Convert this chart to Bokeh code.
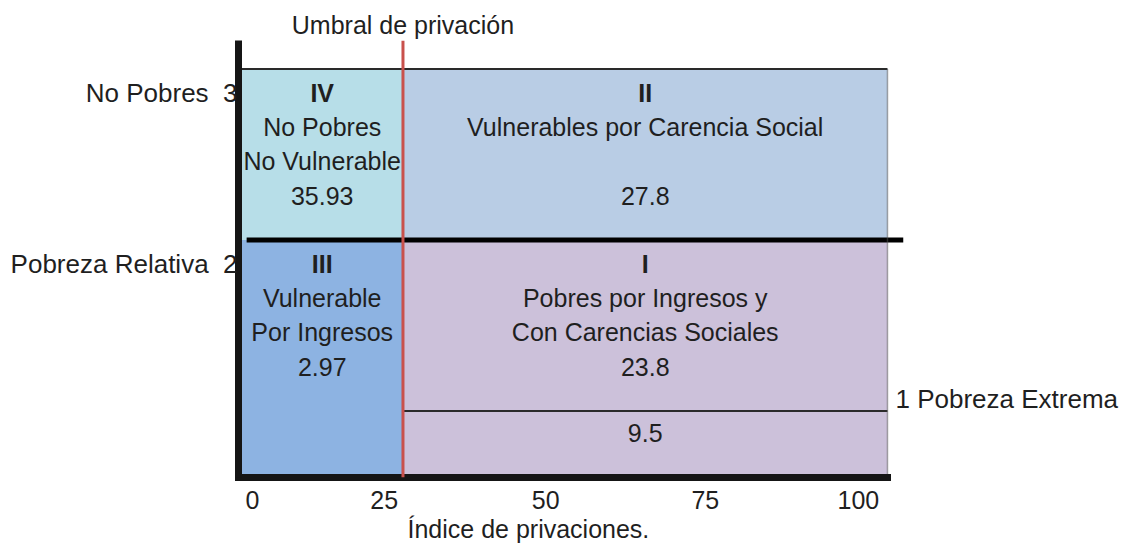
from bokeh.plotting import figure
from bokeh.models import Range1d, FixedTicker, LinearAxis, Span, Title, ColumnDataSource
from bokeh.embed import file_html
from bokeh.resources import INLINE
from bokeh.core.properties import value

# ---------------- data ----------------
x_ticks = [0, 25, 50, 75, 100]
threshold = 25            # Umbral de privación
x_max = 100
levels = [3, 2, 1]        # No Pobres, Pobreza Relativa, Pobreza Extrema
left_labels = ["No Pobres \u00a03", "Pobreza Relativa \u00a02"]
right_label = "1 Pobreza Extrema"
top_label = "Umbral de privación"
x_title = "Índice de privaciones."

quadrant_ids = ["IV", "II", "III", "I"]
quadrant_lines = [
    ["No Pobres", "No Vulnerable"],
    ["Vulnerables por Carencia Social", ""],
    ["Vulnerable", "Por Ingresos"],
    ["Pobres por Ingresos y", "Con Carencias Sociales"],
]
quadrant_values = [35.93, 27.8, 2.97, 23.8]
extreme_value = 9.5
quadrant_colors = ["#b7dee8", "#b9cde5", "#8db3e2", "#ccc1da"]

# ---------------- style ----------------
FONT_NAME = "Liberation Sans"
FONT = value(FONT_NAME)
FS = "25px"
FS_SIDE = "26px"
TXT = "#1f1f1f"
AX = "#151515"
row_first = 0.14   # first text row below a boundary (data units)
row_step = 0.2     # spacing between text rows
tick_label_nudge = [1.7, -2.9, -2.9, -3.2, -4.5]   # where the original placed its tick labels

x_range = Range1d(-0.46, 102.48)
y_range = Range1d(0.611, 3.167)
y0 = y_range.start

p = figure(width=1129, height=548, x_range=x_range, y_range=y_range,
           output_backend="svg", toolbar_location=None,
           min_border_left=238, min_border_right=226,
           min_border_top=40, min_border_bottom=71)
p.grid.visible = False
p.outline_line_color = None
p.background_fill_color = "white"
p.border_fill_color = "white"

# ---------------- quadrants ----------------
lefts = [0, threshold, 0, threshold]
rights = [threshold, x_max, threshold, x_max]
tops = [levels[0], levels[0], levels[1], levels[1]]
bottoms = [levels[1], levels[1], y0, y0]
p.quad(left=lefts, right=rights, top=tops, bottom=bottoms,
       fill_color=quadrant_colors, line_color=None)

# boundary lines
p.segment(x0=[0], y0=[levels[0]], x1=[x_max], y1=[levels[0]],
          line_color="#2a2a2a", line_width=2)
p.segment(x0=[0.8], y0=[levels[1]], x1=[x_range.end], y1=[levels[1]],
          line_color="black", line_width=5)
p.segment(x0=[threshold], y0=[levels[2]], x1=[x_max], y1=[levels[2]],
          line_color="#2a2a2a", line_width=2)
p.segment(x0=[x_max], y0=[y0], x1=[x_max], y1=[levels[0]],
          line_color="#555555", line_width=1.5, line_dash="1 1")

p.add_layout(Span(location=threshold, dimension="height",
                  line_color="#c9514c", line_width=3))

# ---------------- quadrant texts ----------------
bold = dict(x=[], y=[], text=[])
norm = dict(x=[], y=[], text=[])
for i, qid in enumerate(quadrant_ids):
    cx = (lefts[i] + rights[i]) / 2
    rows = [qid] + quadrant_lines[i] + [f"{quadrant_values[i]}"]
    for k, t in enumerate(rows):
        if not t:
            continue
        d = bold if k == 0 else norm
        d["x"].append(cx)
        d["y"].append(tops[i] - row_first - row_step * k)
        d["text"].append(t)
norm["x"].append((threshold + x_max) / 2)
norm["y"].append(levels[2] - row_first + 0.01)
norm["text"].append(f"{extreme_value}")

common = dict(text_align="center", text_baseline="middle", text_font=FONT,
              text_font_size=FS, text_color=TXT)
p.text(x="x", y="y", text="text", source=ColumnDataSource(bold),
       text_font_style="bold", **common)
p.text(x="x", y="y", text="text", source=ColumnDataSource(norm),
       text_font_style="normal", **common)

# ---------------- axes ----------------
def style_axis(ax, fs=FS):
    ax.major_tick_line_color = None
    ax.minor_tick_line_color = None
    ax.major_tick_out = 0
    ax.major_tick_in = 0
    ax.major_label_text_font = FONT_NAME
    ax.major_label_text_font_size = fs
    ax.major_label_text_color = TXT

xa = p.xaxis[0]
style_axis(xa)
label_pos = [round(t + n, 2) for t, n in zip(x_ticks, tick_label_nudge)]
xa.ticker = FixedTicker(ticks=label_pos)
xa.major_label_overrides = {pos: str(t) for pos, t in zip(label_pos, x_ticks)}
xa.bounds = (x_range.start, x_max)
xa.axis_line_width = 7
xa.axis_line_color = AX
xa.axis_line_cap = "square"
xa.major_label_standoff = 13

ya = p.yaxis[0]
style_axis(ya, FS_SIDE)
left_ticks = [round(l - row_first, 3) for l in levels[:2]]
ya.ticker = FixedTicker(ticks=left_ticks)
ya.major_label_overrides = {t: s for t, s in zip(left_ticks, left_labels)}
ya.axis_line_width = 7
ya.axis_line_color = AX
ya.major_label_standoff = 1

right_tick = round(levels[2] + 0.073, 3)
ra = LinearAxis(ticker=FixedTicker(ticks=[right_tick]),
                major_label_overrides={right_tick: right_label},
                axis_line_color=None, major_label_standoff=-8)
style_axis(ra, FS_SIDE)
p.add_layout(ra, "right")

ta = LinearAxis(ticker=FixedTicker(ticks=[threshold]),
                major_label_overrides={threshold: top_label},
                axis_line_color=None, major_label_standoff=2)
style_axis(ta)
p.add_layout(ta, "above")

p.add_layout(Title(text=x_title, align="left", offset=169, standoff=3,
                   text_font=FONT_NAME, text_font_size=FS, text_font_style="normal",
                   text_color=TXT), "below")

open("out.html", "w").write(file_html(p, INLINE))
